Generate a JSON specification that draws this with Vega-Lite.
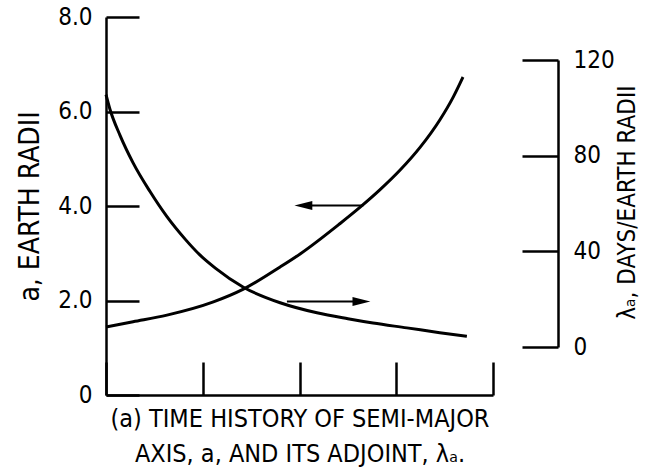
{
  "$schema": "https://vega.github.io/schema/vega-lite/v6.json",
  "width": 387,
  "height": 378,
  "autosize": {"type": "none"},
  "padding": {"left": 106, "top": 17, "right": 155, "bottom": 79},
  "background": "white",
  "config": {
    "view": {"stroke": null},
    "font": "Liberation Sans Narrow, DejaVu Sans Condensed, sans-serif",
    "axis": {
      "domainColor": "black",
      "domainWidth": 2.5,
      "tickColor": "black",
      "tickWidth": 2.5,
      "grid": false,
      "labelColor": "black",
      "titleColor": "black",
      "labelFont": "Liberation Sans Narrow, DejaVu Sans Condensed, sans-serif",
      "titleFont": "Liberation Sans Narrow, DejaVu Sans Condensed, sans-serif",
      "titleFontWeight": "normal",
      "labelFontSize": 24,
      "titleFontSize": 26
    }
  },
  "datasets": {
    "semiMajor": [
      {"t": 0.0, "a": 1.44},
      {"t": 0.28, "a": 1.55},
      {"t": 0.63, "a": 1.69},
      {"t": 1.11, "a": 1.97},
      {"t": 1.42, "a": 2.24},
      {"t": 1.8, "a": 2.71},
      {"t": 2.01, "a": 2.99},
      {"t": 2.42, "a": 3.63},
      {"t": 2.63, "a": 3.98},
      {"t": 2.83, "a": 4.34},
      {"t": 3.04, "a": 4.76},
      {"t": 3.25, "a": 5.25},
      {"t": 3.45, "a": 5.82},
      {"t": 3.59, "a": 6.31},
      {"t": 3.69, "a": 6.73}
    ],
    "adjoint": [
      {"t": 0.0, "lam": 105.5},
      {"t": 0.04, "lam": 99.5},
      {"t": 0.145, "lam": 88.5},
      {"t": 0.28, "lam": 77.0},
      {"t": 0.455, "lam": 65.0},
      {"t": 0.63, "lam": 54.5},
      {"t": 0.82, "lam": 45.0},
      {"t": 0.97, "lam": 38.5},
      {"t": 1.13, "lam": 33.0},
      {"t": 1.42, "lam": 25.0},
      {"t": 1.8, "lam": 18.5},
      {"t": 2.18, "lam": 14.3},
      {"t": 2.5, "lam": 11.8},
      {"t": 2.76, "lam": 10.0},
      {"t": 3.11, "lam": 8.0},
      {"t": 3.45, "lam": 6.0},
      {"t": 3.73, "lam": 4.5}
    ],
    "arrowShafts": [
      {"t1": 2.04, "t2": 2.66, "a": 4.01},
      {"t1": 1.87, "t2": 2.6, "a": 1.98}
    ],
    "arrowHeads": [
      {"t": 2.04, "a": 4.01, "dir": "left"},
      {"t": 2.64, "a": 1.98, "dir": "right"}
    ]
  },
  "layer": [
    {
      "layer": [
        {
          "data": {"name": "semiMajor"},
          "mark": {"type": "line", "color": "black", "strokeWidth": 3, "interpolate": "monotone"},
          "encoding": {
            "x": {
              "field": "t", "type": "quantitative",
              "scale": {"domain": [0, 4], "nice": false, "zero": false},
              "axis": {
                "values": [0, 1, 2, 3, 4],
                "labels": false,
                "tickSize": -33,
                "title": ["(a) TIME HISTORY OF SEMI-MAJOR", "AXIS, a, AND ITS ADJOINT, λₐ."],
                "titleFontSize": 25,
                "titleLineHeight": 35,
                "titlePadding": 10
              }
            },
            "y": {
              "field": "a", "type": "quantitative",
              "scale": {"domain": [0, 8], "nice": false},
              "axis": {
                "orient": "left",
                "values": [0, 2, 4, 6, 8],
                "tickSize": -33,
                "labelPadding": 47,
                "labelExpr": "datum.value == 0 ? '0' : format(datum.value, '.1f')",
                "title": "a, EARTH RADII",
                "titleFontSize": 28,
                "titlePadding": 13
              }
            }
          }
        },
        {
          "data": {"name": "arrowShafts"},
          "mark": {"type": "rule", "color": "black", "strokeWidth": 2},
          "encoding": {
            "x": {"field": "t1", "type": "quantitative"},
            "x2": {"field": "t2"},
            "y": {"field": "a", "type": "quantitative"}
          }
        },
        {
          "data": {"name": "arrowHeads"},
          "mark": {"type": "point", "filled": true, "color": "black", "opacity": 1, "size": 320},
          "encoding": {
            "x": {"field": "t", "type": "quantitative"},
            "y": {"field": "a", "type": "quantitative"},
            "shape": {
              "field": "dir", "type": "nominal",
              "scale": {"domain": ["left", "right"], "range": ["M -1 0 L 1 -0.5 L 1 0.5 Z", "M 1 0 L -1 -0.5 L -1 0.5 Z"]},
              "legend": null
            }
          }
        }
      ]
    },
    {
      "data": {"name": "adjoint"},
      "mark": {"type": "line", "color": "black", "strokeWidth": 3, "interpolate": "monotone"},
      "encoding": {
        "x": {"field": "t", "type": "quantitative"},
        "y": {
          "field": "lam", "type": "quantitative",
          "scale": {"domain": [0, 120], "nice": false, "range": [330, 43]},
          "axis": {
            "orient": "right",
            "offset": 65,
            "values": [0, 40, 80, 120],
            "tickSize": -36,
            "labelPadding": 51,
            "title": "λₐ, DAYS/EARTH RADII",
            "titleFontSize": 24,
            "titleAngle": 270,
            "titleAlign": "center",
            "titleBaseline": "middle",
            "titleX": 69,
            "titleY": 185
          }
        }
      }
    }
  ],
  "resolve": {"scale": {"y": "independent"}, "axis": {"y": "independent"}}
}
